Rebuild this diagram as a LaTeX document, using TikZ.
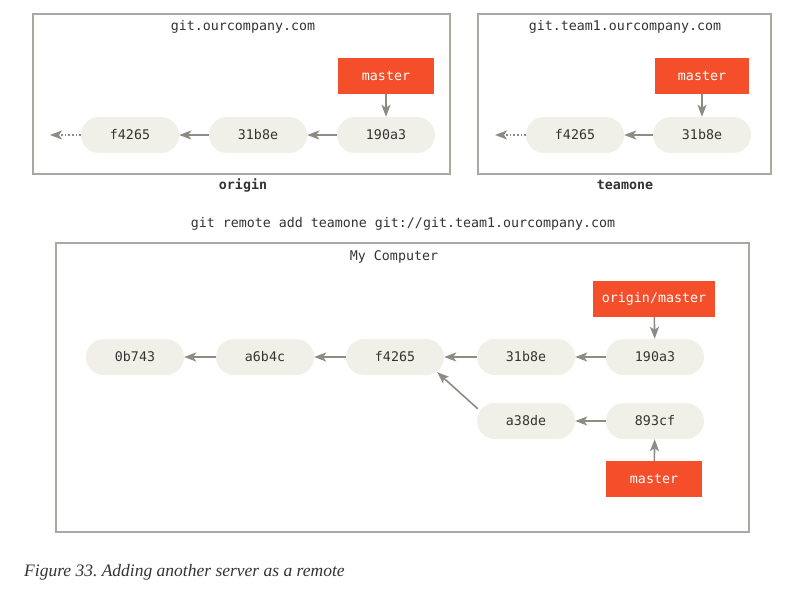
\documentclass[tikz,border=0pt]{standalone}
\usepackage{fontspec}
\setmainfont{Liberation Serif}
\setmonofont{DejaVu Sans Mono}
\usetikzlibrary{arrows.meta}
\definecolor{commitfill}{HTML}{F0EFE8}
\definecolor{branchred}{HTML}{F54E2B}
\definecolor{linkgray}{HTML}{8E8A84}
\definecolor{framegray}{HTML}{ABA8A3}
\definecolor{inkgray}{HTML}{333333}
\frenchspacing

\begin{document}
\begin{tikzpicture}[x = 1pt, y = -1pt, every node/.style = {font = \fontsize{13.3}{15}\selectfont\ttfamily, text = inkgray},
  commit/.style = {fill = commitfill, rounded corners = 18pt, minimum width = 98pt, minimum height = 36pt, inner sep = 0pt},
  branch/.style = {fill = branchred, text = white, minimum height = 36pt, inner sep = 0pt},
  serverbox/.style = {draw = framegray, line width = 1.5pt},
  link/.style = {draw = linkgray, line width = 1.6pt, -{Stealth[length = 12pt, width = 9pt, inset = 3pt]}}]

	\useasboundingbox (0, 0) rectangle (808, 589);

	% git.ourcompany.com
	\draw [serverbox] (33, 14) rectangle (450, 174);
	\node (ORtitle) at (243,  27) {git.ourcompany.com};
	\node (ORname)  at (243, 185) [font = \fontsize{13.3}{15}\selectfont\ttfamily\bfseries] {origin};
	\node (ORf4265) at (130, 135) [commit] {f4265};
	\node (OR31b8e) at (258, 135) [commit] {31b8e};
	\node (OR190a3) at (386, 135) [commit] {190a3};
	\node (ORmaster) at (386, 76) [branch, minimum width = 96pt] {master};
	\coordinate (ORtail) at (50, 135);

	% git.team1.ourcompany.com
	\draw [serverbox] (478, 14) rectangle (771, 174);
	\node (TMtitle) at (625,  27) {git.team1.ourcompany.com};
	\node (TMname)  at (625, 185) [font = \fontsize{13.3}{15}\selectfont\ttfamily\bfseries] {teamone};
	\node (TMf4265) at (575, 135) [commit] {f4265};
	\node (TM31b8e) at (702, 135) [commit] {31b8e};
	\node (TMmaster) at (702, 76) [branch, minimum width = 94pt] {master};
	\coordinate (TMtail) at (495, 135);

	\node (CMD) at (403, 224) {git remote add teamone git://git.team1.ourcompany.com};

	% My Computer
	\draw [serverbox] (56, 243) rectangle (749, 532);
	\node (MCtitle) at (394, 257) {My Computer};
	\node (MC0b743) at (135, 357) [commit] {0b743};
	\node (MCa6b4c) at (265, 357) [commit] {a6b4c};
	\node (MCf4265) at (395, 357) [commit] {f4265};
	\node (MC31b8e) at (526, 357) [commit] {31b8e};
	\node (MC190a3) at (655, 357) [commit] {190a3};
	\node (MCa38de) at (526, 421) [commit] {a38de};
	\node (MC893cf) at (655, 421) [commit] {893cf};
	\node (MCorigin) at (654, 299) [branch, minimum width = 122pt] {origin/master};
	\node (MCmaster) at (654, 479) [branch, minimum width = 96pt] {master};

	\node (CAP) at (24, 576) [anchor = base west, inner sep = 0pt, font = \fontsize{17.5}{20}\selectfont\itshape\rmfamily] {Figure 33. Adding another server as a remote};

    \foreach \from/\to in {OR31b8e/ORf4265, OR190a3/OR31b8e, ORmaster/OR190a3, TM31b8e/TMf4265, TMmaster/TM31b8e,
    MCa6b4c/MC0b743, MCf4265/MCa6b4c, MC31b8e/MCf4265, MC190a3/MC31b8e, MC893cf/MCa38de, MCorigin/MC190a3, MCmaster/MC893cf}
    	\path (\from) edge [link] (\to);
    \foreach \from/\to in {ORf4265/ORtail, TMf4265/TMtail}
    	\path (\from) edge [link, dotted] (\to);

    \path ([xshift = 1pt, yshift = -6pt] MCa38de.north west) edge [link] ([xshift = -7pt, yshift = 3pt] MCf4265.south east);

\end{tikzpicture}
\end{document}
